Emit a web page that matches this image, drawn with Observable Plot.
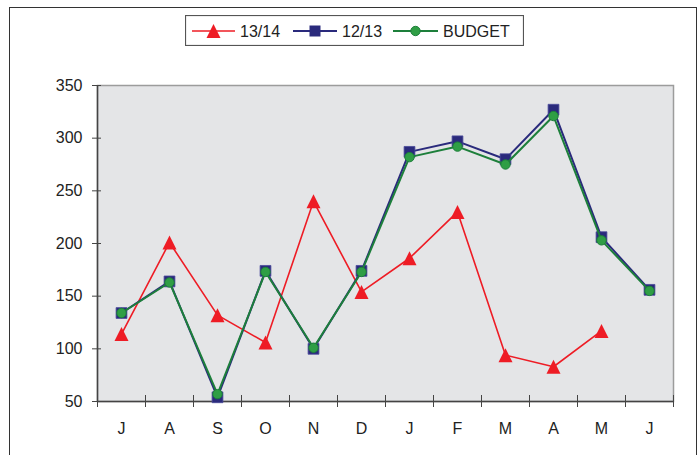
<!DOCTYPE html>
<html><head><meta charset="utf-8">
<script src="https://cdn.jsdelivr.net/npm/d3@7"></script>
<script src="https://cdn.jsdelivr.net/npm/@observablehq/plot@0.6"></script>
<style>
body{margin:0;background:#fff;font-family:"Liberation Sans",Arial,sans-serif;}
#wrap{position:relative;width:698px;height:455px;overflow:hidden;background:#fff}
#chart{position:absolute;left:0;top:0}
#outer{position:absolute;left:9px;top:7px;width:688px;height:470px;border:1.5px solid #333;box-sizing:border-box}
#legend{position:absolute;left:185px;top:15px;width:339px;height:31px;}
</style></head><body>
<div id="wrap"><div id="outer"></div><div id="chart"></div><div id="legend"></div></div>
<script>
const months = ["J","A","S","O","N","D","J","F","M","A","M","J"];
const s1314 = [114,201,132,106,240,154,186,230,94,83,117];
const s1213 = [134,164,54,174,100,174,287,297,280,327,206,156];
const budget = [134,163,57,173,101,173,282,292,275,321,203,155];
const yTicks = [50,100,150,200,250,300,350];
const seriesNames = ["13/14","12/13","BUDGET"];
const colors = ["#ee1c25","#2a2a7c","#1d7f3b"];
const fills = ["#ee1c25","#2a2a7c","#2f9e45"];

// triangle centred on its bounding box, as in the original
const tri = {
  draw(context, size) {
    const r = Math.sqrt(size / Math.PI);
    context.moveTo(0, -r);
    context.lineTo(r, r);
    context.lineTo(-r, r);
    context.closePath();
  }
};

const rows = (vals) => vals.map((v,i)=>({i, x:i+0.5, v}));
const d1 = rows(s1314), d2 = rows(s1213), d3b = rows(budget);
const font = "Liberation Sans, Arial, sans-serif";

const plot = Plot.plot({
  width:698, height:455, marginLeft:97, marginRight:25, marginTop:85, marginBottom:54,
  style:{fontFamily:font, fontSize:"16px", color:"#222", background:"transparent"},
  x:{domain:[0,12]}, y:{domain:[50,350]},
  marks:[
    Plot.frame({fill:"#e4e5e7", stroke:"#9c9c9c", strokeWidth:1.5}),
    Plot.axisY({ticks:yTicks, tickSize:5, tickPadding:10, label:null, fontSize:16, stroke:"#444", fill:"#222"}),
    Plot.axisY({ticks:yTicks, tickSize:-4, tickFormat:()=>"", label:null, stroke:"#444"}),
    Plot.axisX({ticks:d3.range(13), tickSize:6, tickFormat:()=>"", label:null, stroke:"#444"}),
    Plot.axisX({ticks:d3.range(13), tickSize:-6, tickFormat:()=>"", label:null, stroke:"#444"}),
    Plot.axisX({ticks:months.map((_,i)=>i+0.5), tickSize:0, tickPadding:21, tickFormat:d=>months[Math.floor(d)], label:null, fontSize:16, fill:"#222"}),
    Plot.ruleY([50], {stroke:"#444", strokeWidth:1.5}),
    Plot.ruleX([0], {stroke:"#444", strokeWidth:1.5}),
    Plot.line(d1, {x:"x", y:"v", stroke:colors[0], strokeWidth:1.6}),
    Plot.dot(d1, {x:"x", y:"v", symbol:tri, r:7, fill:fills[0], stroke:"none"}),
    Plot.line(d2, {x:"x", y:"v", stroke:colors[1], strokeWidth:2}),
    Plot.dot(d2, {x:"x", y:"v", symbol:"square", r:6.1, fill:fills[1], stroke:"#4a4a9a", strokeWidth:0.8}),
    Plot.line(d3b, {x:"x", y:"v", stroke:colors[2], strokeWidth:2}),
    Plot.dot(d3b, {x:"x", y:"v", symbol:"circle", r:4.7, fill:fills[2], stroke:"#1d7f3b", strokeWidth:1})
  ]
});
document.getElementById("chart").appendChild(plot);

// Legend
const lg = d3.select("#legend").append("svg").attr("width",339).attr("height",31)
  .style("font-family", font).style("font-size","16px");
lg.append("rect").attr("x",0.5).attr("y",0.5).attr("width",338).attr("height",30)
  .attr("fill","#fff").attr("stroke","#555").attr("stroke-width",1.2);
const items = [
  {x0:7, x1:50, text:"13/14", sym:tri, size:Math.PI*49},
  {x0:108, x1:152, text:"12/13", sym:d3.symbolSquare, size:121},
  {x0:208, x1:253, text:"BUDGET", sym:d3.symbolCircle, size:Math.PI*4.7*4.7}
];
items.forEach((it,k)=>{
  const cy = 16;
  lg.append("line").attr("x1",it.x0).attr("x2",it.x1).attr("y1",cy).attr("y2",cy)
    .attr("stroke",colors[k]).attr("stroke-width",k===0?1.6:2);
  lg.append("path").attr("d", d3.symbol(it.sym, it.size)())
    .attr("transform",`translate(${(it.x0+it.x1)/2},${cy})`)
    .attr("fill",fills[k]).attr("stroke", k===2?"#1d7f3b":"none");
  lg.append("text").attr("x",it.x1+5).attr("y",cy).attr("dy","0.36em")
    .attr("fill","#222").text(seriesNames[k]);
});
</script>
</body></html>
